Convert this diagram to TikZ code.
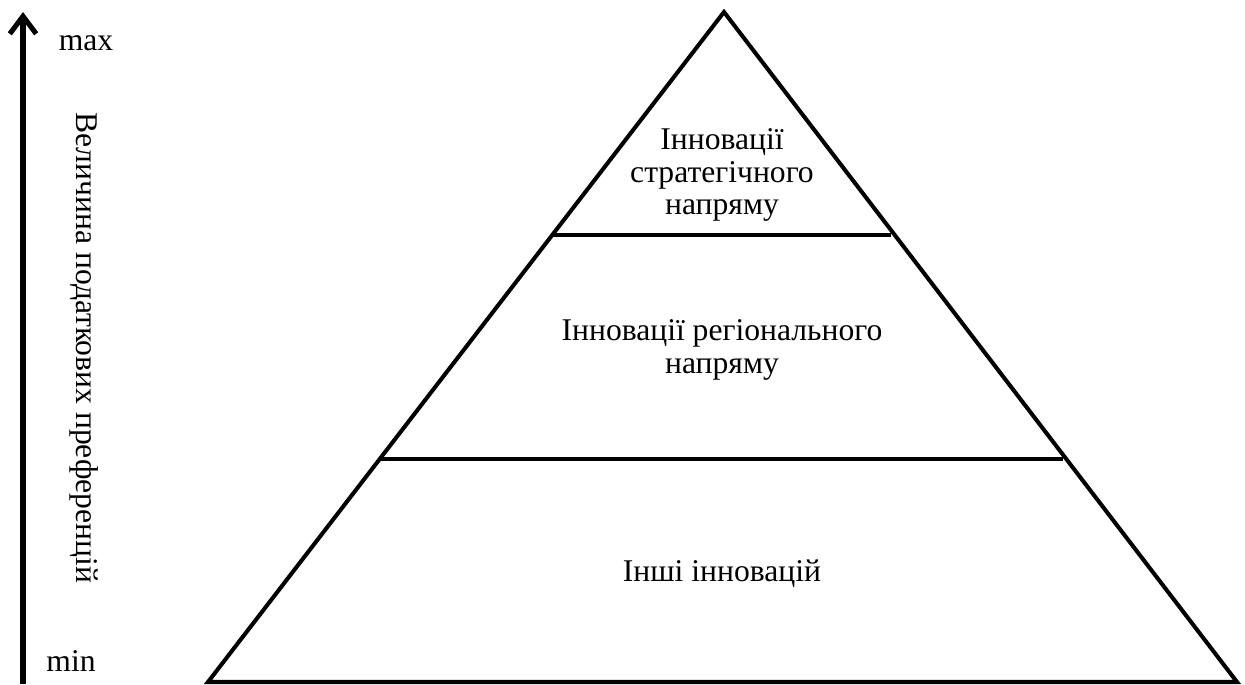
\documentclass[tikz,border=0pt]{standalone}
\usepackage{fontspec}
\setmainfont{Liberation Serif}
\usetikzlibrary{arrows.meta}

\tikzset{
    layer/.style={line width=2.3pt},
    label/.style={align=center, font=\fontsize{18}{18.3}\selectfont},
}

\begin{document}
\begin{tikzpicture}[x=0.02cm, y=-0.02cm]
    \useasboundingbox (0,0) rectangle (1245,684);
    \coordinate (apex) at (724,12);
    \coordinate (baseL) at (208,682);
    \coordinate (baseR) at (1237,682);
    \coordinate (upL) at (553,235);
    \coordinate (upR) at (891,235);
    \coordinate (midL) at (381,459);
    \coordinate (midR) at (1063,459);
    \draw [layer, line join=miter] (apex) -- (baseL) -- (baseR) -- cycle;
    \draw [layer] (upL) -- (upR);
    \draw [layer] (midL) -- (midR);
    \node[label] (strat) at (722,175) {Інновації\\стратегічного\\напряму};
    \node[label] (regio) at (722,350) {Інновації регіонального\\напряму};
    \node[label] (other) at (722,574) {Інші інновацій};
    % scale of preferences
    \coordinate (axisB) at (23,684);
    \coordinate (axisT) at (23,12);
    \draw [line width=2.9pt, -{Straight Barb[length=10pt, width=15pt]}] (axisB) -- (axisT);
    \node[label] (max) at (86,43) {max};
    \node[label] (min) at (71,661) {min};
    \node[label, rotate=-90] (value) at (84,348) {Величина податкових преференцій};
\end{tikzpicture}
\end{document}
